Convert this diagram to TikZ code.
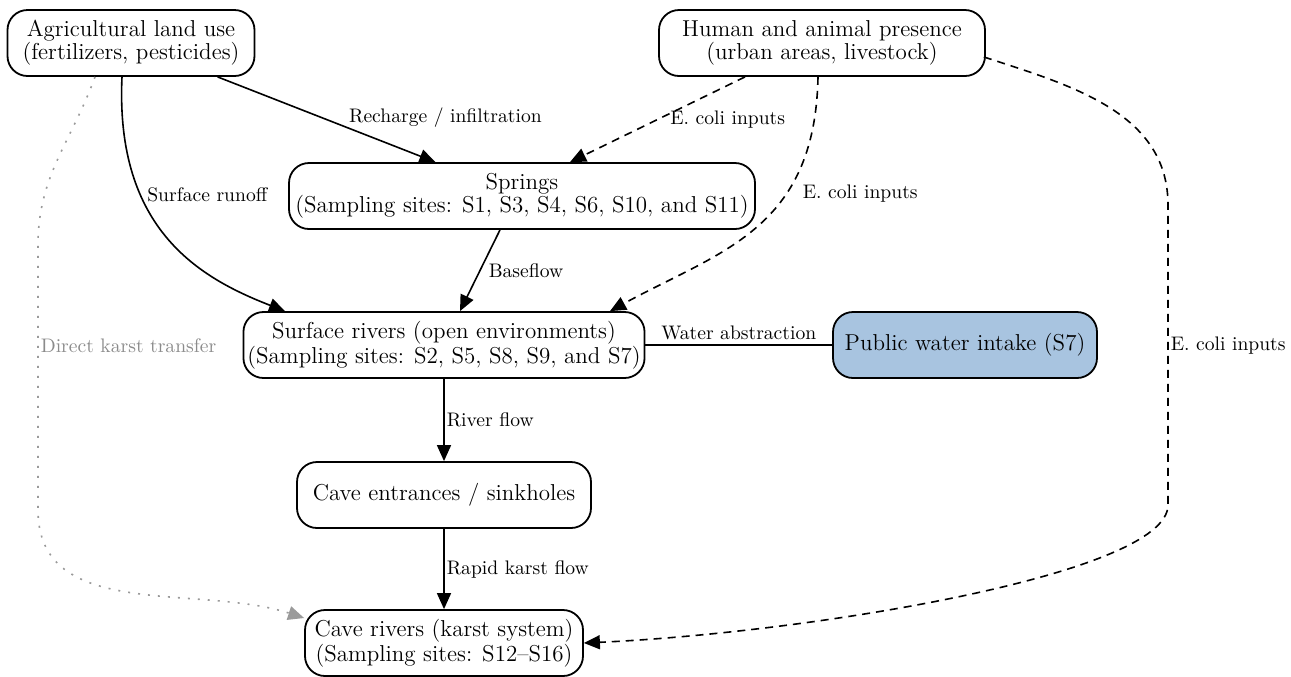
\documentclass[tikz,border=0pt]{standalone}
\usepackage{xcolor}
\usetikzlibrary{arrows.meta,positioning,calc}
\definecolor{intakeblue}{HTML}{A8C4E0}
\definecolor{karstgray}{HTML}{9A9A9A}

\begin{document}
\begin{tikzpicture}[->,>={Triangle[length=8pt,width=7pt]},x=0.5pt,y=0.5pt,line width=0.8pt,auto]
            \tikzstyle{box}=[draw, line width=0.9pt, rounded corners=10pt, align=center, minimum height=33pt, inner xsep=2pt, font=\fontsize{11.5}{11.5}\selectfont]
            \tikzstyle{lbl}=[font=\fontsize{9.8}{11}\selectfont, inner sep=2pt]
            \tikzstyle{ecoli}=[dash pattern=on 4pt off 3pt]
            \tikzstyle{karst}=[color=karstgray, dash pattern=on 1pt off 4pt]
            \useasboundingbox (0,0) rectangle (1291,-676);

            % sources
            \node[box, minimum width=123.5pt] (agri)    at (131,-43)  {Agricultural land use\\(fertilizers, pesticides)};
            \node[box, minimum width=163pt]   (human)   at (822,-43)  {Human and animal presence\\(urban areas, livestock)};
            % water bodies
            \node[box, minimum width=233pt]   (springs) at (522,-196) {Springs\\(Sampling sites: S1, S3, S4, S6, S10, and S11)};
            \node[box, minimum width=200pt]   (surf)    at (444,-345) {Surface rivers (open environments)\\(Sampling sites: S2, S5, S8, S9, and S7)};
            \node[box, minimum width=132pt, fill=intakeblue] (intake) at (965,-345) {Public water intake (S7)};
            \node[box, minimum width=147pt]   (entr)    at (444,-495) {Cave entrances / sinkholes};
            \node[box, minimum width=139pt]   (cave)    at (444,-643) {Cave rivers (karst system)\\(Sampling sites: S12--S16)};

            \coordinate (ecoliTop)  at (1168,-205);
            \coordinate (ecoliBot)  at (1168,-505);
            \coordinate (karstTop)  at (38,-245);
            \coordinate (karstBot)  at (38,-510);

            \path (agri) edge node[lbl, pos=0.6, inner sep=0pt] {Recharge / infiltration} (springs);
            \draw[ecoli] ($(human.south)+(-77,0)$) -- node[lbl, pos=0.5, anchor=west, xshift=4pt] {E. coli inputs} ($(springs.north)+(48,0)$);
            \draw ($(agri.south)+(-9,0)$) .. controls +(-7,-153) and +(-85,33) .. node[lbl, pos=0.32, anchor=west, xshift=1pt] {Surface runoff} ($(surf.north)+(-159,0)$);
            \draw ($(springs.south)+(-22,0)$) -- node[lbl, pos=0.5, anchor=west, xshift=2pt] {Baseflow} ($(surf.north)+(16,0)$);
            \draw[ecoli] ($(human.south)+(-4,0)$) .. controls +(-3,-153) and +(110,60) .. node[lbl, pos=0.34, anchor=west, xshift=6pt] {E. coli inputs} ($(surf.north)+(166,0)$);
            \draw[ecoli] ($(human.east)+(-2,-14)$) to[out=-18, in=90] (ecoliTop)
                -- node[lbl, pos=0.47, anchor=west, inner sep=1pt] {E. coli inputs} (ecoliBot)
                .. controls +(0,-70) and +(220,10) .. (cave.east);
            \path (surf) edge[-] node[lbl, above] {Water abstraction} (intake);
            \path (surf) edge node[lbl, anchor=west, inner sep=1pt] {River flow} (entr);
            \path (entr) edge node[lbl, anchor=west, inner sep=1pt] {Rapid karst flow} (cave);
            \draw[karst] ($(agri.south)+(-36,0)$) to[out=-110, in=90] (karstTop)
                -- node[lbl, pos=0.38, anchor=west, inner sep=1pt, text=karstgray!90!black] {Direct karst transfer} (karstBot)
                to[out=-90, in=162] ($(cave.west)+(0,25)$);
          \end{tikzpicture}
\end{document}
